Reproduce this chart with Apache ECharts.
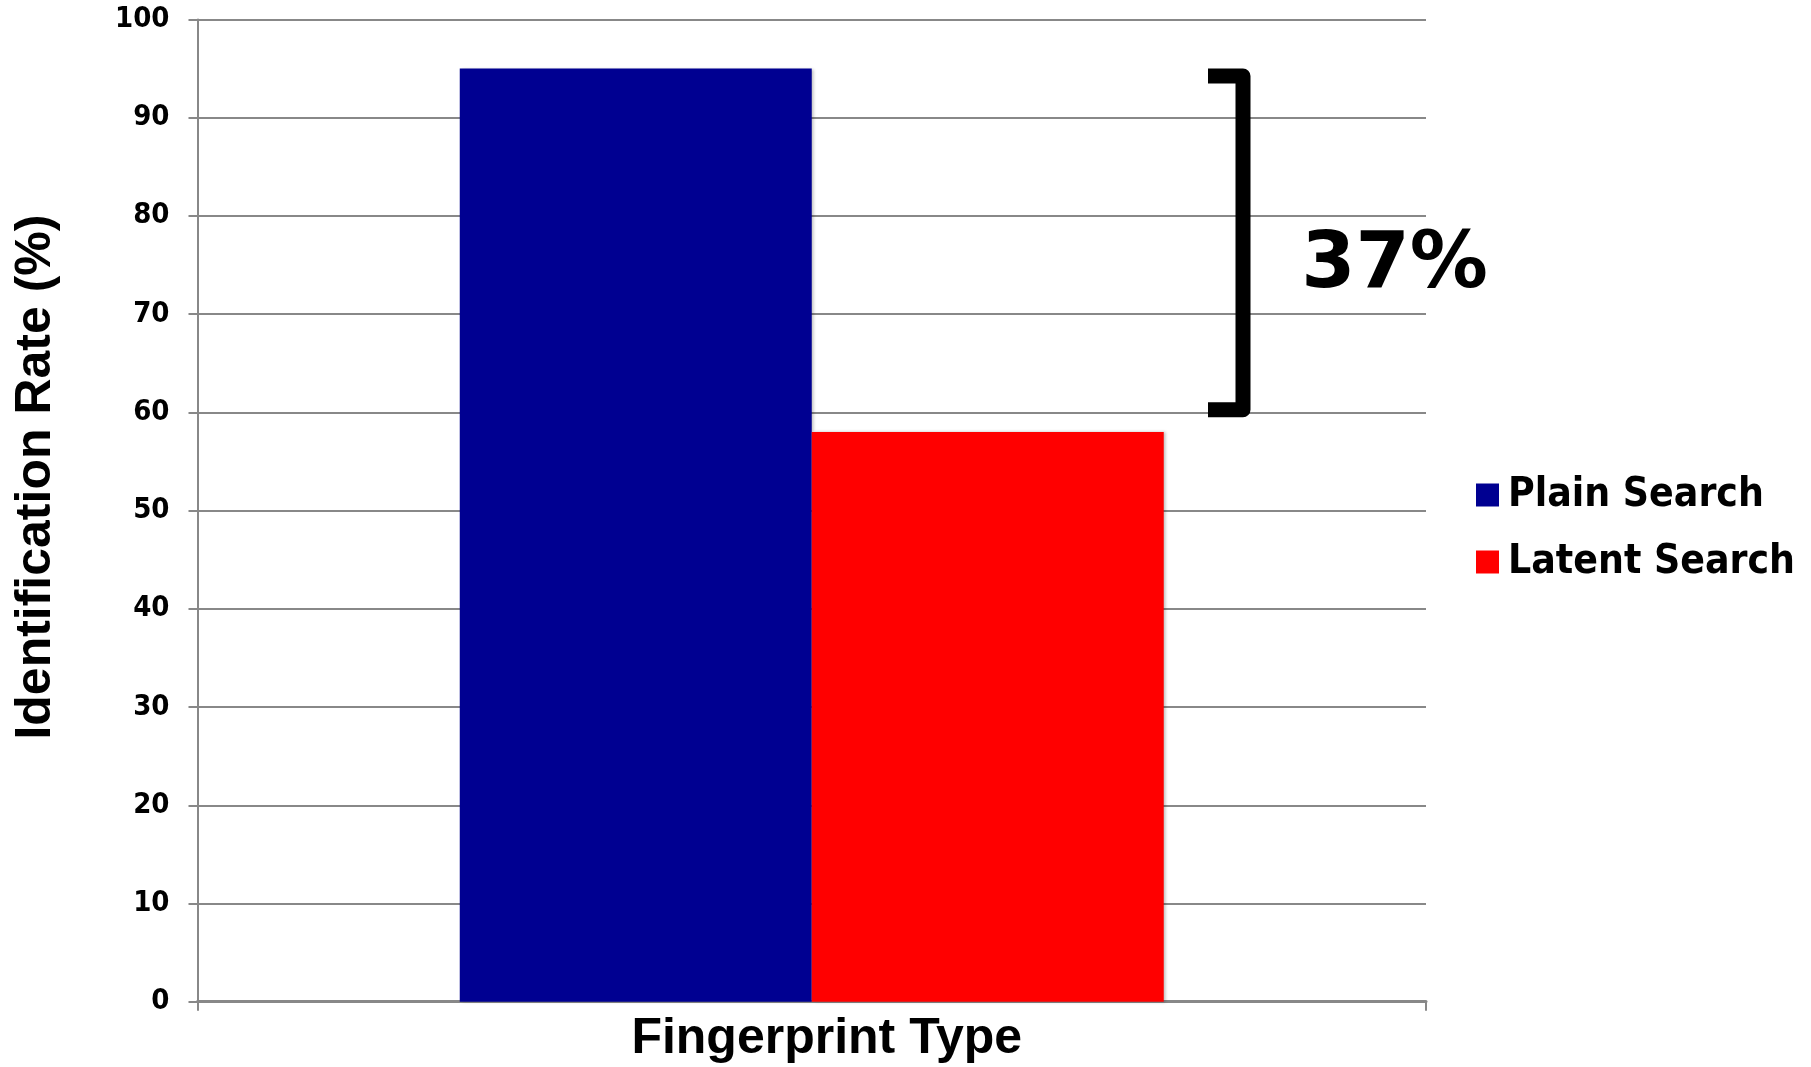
<!DOCTYPE html>
<html>
<head>
<meta charset="utf-8">
<script src="https://cdn.jsdelivr.net/npm/echarts@6/dist/echarts.min.js"></script>
<style>
html,body{margin:0;padding:0;background:#fff;overflow:hidden;}
#chart{width:1811px;height:1067px;}
</style>
</head>
<body>
<div id="chart"></div>
<script>
// ---- data ----
const categories = [''];
const seriesNames = ['Plain Search', 'Latent Search'];
const plainValues = [95];
const latentValues = [58];
const yMin = 0;
const yMax = 100;
const yInterval = 10;
const xAxisTitle = 'Fingerprint Type';
const yAxisTitle = 'Identification Rate (%)';
const bracketValues = [95, 59.5];
const gapLabel = (plainValues[0] - latentValues[0]) + '%';

// ---- styles ----
const GRAY = '#888888';
const tickFont = 'DejaVu Sans Condensed';
const titleFont = 'Liberation Sans';

const chart = echarts.init(document.getElementById('chart'), null, {renderer: 'canvas'});
const option = {
  backgroundColor: '#ffffff',
  animation: false,
  grid: {left: 197.5, right: 385, top: 19.5, bottom: 65.3, containLabel: false, outerBoundsMode: 'none'},
  legend: {
    orient: 'vertical',
    left: 1476,
    top: 473,
    padding: 0,
    itemWidth: 23,
    itemHeight: 23,
    itemGap: 23,
    icon: 'rect',
    data: seriesNames,
    textStyle: {
      fontFamily: tickFont, fontWeight: 'bold', fontSize: 40.5, color: '#000',
      lineHeight: 44, padding: [0, 0, 0, 4]
    }
  },
  xAxis: {
    type: 'category',
    data: categories,
    boundaryGap: true,
    name: xAxisTitle,
    nameLocation: 'middle',
    nameGap: 13,
    nameTextStyle: {
      fontFamily: titleFont, fontWeight: 'bold', fontSize: 50, color: '#000',
      lineHeight: 50, padding: [0, 0, 0, 30]
    },
    axisLine: {show: true, lineStyle: {color: GRAY, width: 3}},
    axisTick: {show: true, length: 9, lineStyle: {color: GRAY, width: 2}},
    axisLabel: {show: false},
    splitLine: {show: false}
  },
  yAxis: {
    type: 'value',
    min: yMin,
    max: yMax,
    interval: yInterval,
    name: yAxisTitle,
    nameLocation: 'middle',
    nameGap: 136,
    nameRotate: 90,
    nameTextStyle: {
      fontFamily: titleFont, fontWeight: 'bold', fontSize: 50, color: '#000',
      lineHeight: 50, padding: [0, 0, 0, 67]
    },
    axisLine: {show: true, lineStyle: {color: GRAY, width: 2}},
    axisTick: {show: true, length: 9, lineStyle: {color: GRAY, width: 2}},
    axisLabel: {
      margin: 28, fontFamily: tickFont, fontWeight: 'bold', fontSize: 29, color: '#000'
    },
    splitLine: {show: true, lineStyle: {color: GRAY, width: 2}}
  },
  series: [
    {
      name: seriesNames[0], type: 'bar', data: plainValues,
      barWidth: 352, barGap: '0%',
      itemStyle: {color: '#000091', shadowColor: 'rgba(0,0,0,0.25)', shadowBlur: 3, shadowOffsetX: 2}
    },
    {
      name: seriesNames[1], type: 'bar', data: latentValues,
      barWidth: 352, barGap: '0%',
      itemStyle: {color: '#ff0000', shadowColor: 'rgba(0,0,0,0.25)', shadowBlur: 3, shadowOffsetX: 2}
    }
  ]
};
chart.setOption(option);

// bracket annotation positioned with the value axis
const yTop = chart.convertToPixel({yAxisIndex: 0}, bracketValues[0]);
const yBot = chart.convertToPixel({yAxisIndex: 0}, bracketValues[1]);
const armW = 15;
const xArm = 1208, xStem = 1243;
chart.setOption({
  graphic: [
    {
      type: 'polyline',
      shape: {points: [[xArm, yTop + armW / 2], [xStem, yTop + armW / 2], [xStem, yBot - armW / 2], [xArm, yBot - armW / 2]]},
      style: {stroke: '#000', lineWidth: armW, fill: null, lineJoin: 'round', lineCap: 'butt'},
      z: 10
    },
    {
      type: 'text',
      x: 1394.5,
      y: 267,
      style: {
        text: gapLabel, fontFamily: 'DejaVu Sans', fontWeight: 'bold', fontSize: 78,
        fill: '#000', align: 'center', verticalAlign: 'middle'
      },
      z: 10
    }
  ]
});
</script>
</body>
</html>
